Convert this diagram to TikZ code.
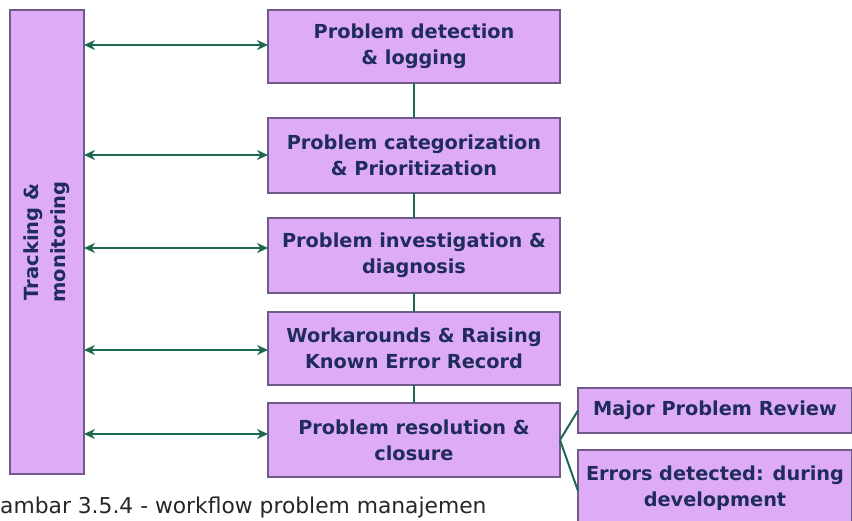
\documentclass[tikz,border=0pt]{standalone}
\usepackage{fontspec}
\setmainfont{DejaVu Sans}
\usetikzlibrary{arrows.meta}
\definecolor{boxfill}{RGB}{222,172,246}
\definecolor{boxline}{RGB}{112,90,140}
\definecolor{boxtext}{RGB}{32,44,92}
\definecolor{conn}{RGB}{28,104,80}
\tikzset{
  box/.style={draw=boxline, fill=boxfill, line width=1.3pt, inner sep=0pt, outer sep=0pt,
    text=boxtext, font=\bfseries\fontsize{19.3}{26}\selectfont, align=center},
  arr/.style={draw=conn, line width=2.4pt, {Stealth[length=11pt,width=10pt]}-{Stealth[length=11pt,width=10pt]}},
  link/.style={draw=conn, line width=2pt},
}
\begin{document}
\begin{tikzpicture}[x=1pt,y=-1pt]
\useasboundingbox (0,0) rectangle (852,520);
\node[box, minimum width=74pt, minimum height=464pt] (track) at (47,242) {};
\node[text=boxtext, font=\bfseries\fontsize{19.5}{27}\selectfont, align=center, rotate=90] (tracktext) at (track.center) {Tracking \&\\monitoring};
\node[box, minimum width=292pt, minimum height=73pt] (b1) at (414,46.5) {Problem detection\\\& logging};
\node[box, minimum width=292pt, minimum height=75pt] (b2) at (414,155.5) {Problem categorization\\\& Prioritization};
\node[box, minimum width=292pt, minimum height=75pt] (b3) at (414,255.5) {Problem investigation \&\\diagnosis};
\node[box, minimum width=292pt, minimum height=73pt] (b4) at (414,348.5) {Workarounds \& Raising\\Known Error Record};
\node[box, minimum width=292pt, minimum height=74pt] (b5) at (414,440) {Problem resolution \&\\closure};
\node[box, minimum width=274pt, minimum height=45pt] (major) at (715,410.5) {Major Problem Review};
\node[box, minimum width=274pt, minimum height=76pt] (errors) at (715,488) {Errors detected: during\\development};
\node[anchor=base west, inner sep=0pt, font=\fontsize{21.8}{24}\selectfont, text=black!85] (caption) at (0,513) {ambar 3.5.4 - workflow problem manajemen};
\draw[arr] ([yshift=1.5pt]b1.west -| track.east) -- ([yshift=1.5pt]b1.west);
\draw[arr] ([yshift=0.5pt]b2.west -| track.east) -- ([yshift=0.5pt]b2.west);
\draw[arr] ([yshift=7.5pt]b3.west -| track.east) -- ([yshift=7.5pt]b3.west);
\draw[arr] ([yshift=-1.5pt]b4.west -| track.east) -- ([yshift=-1.5pt]b4.west);
\draw[arr] ([yshift=6pt]b5.west -| track.east) -- ([yshift=6pt]b5.west);
\draw[link] (b1.south) -- (b2.north);
\draw[link] (b2.south) -- (b3.north);
\draw[link] (b3.south) -- (b4.north);
\draw[link] (b4.south) -- (b5.north);
\draw[link] (b5.east) -- (major.west);
\draw[link] (b5.east) -- ([yshift=-3pt]errors.west);
\end{tikzpicture}
\end{document}
